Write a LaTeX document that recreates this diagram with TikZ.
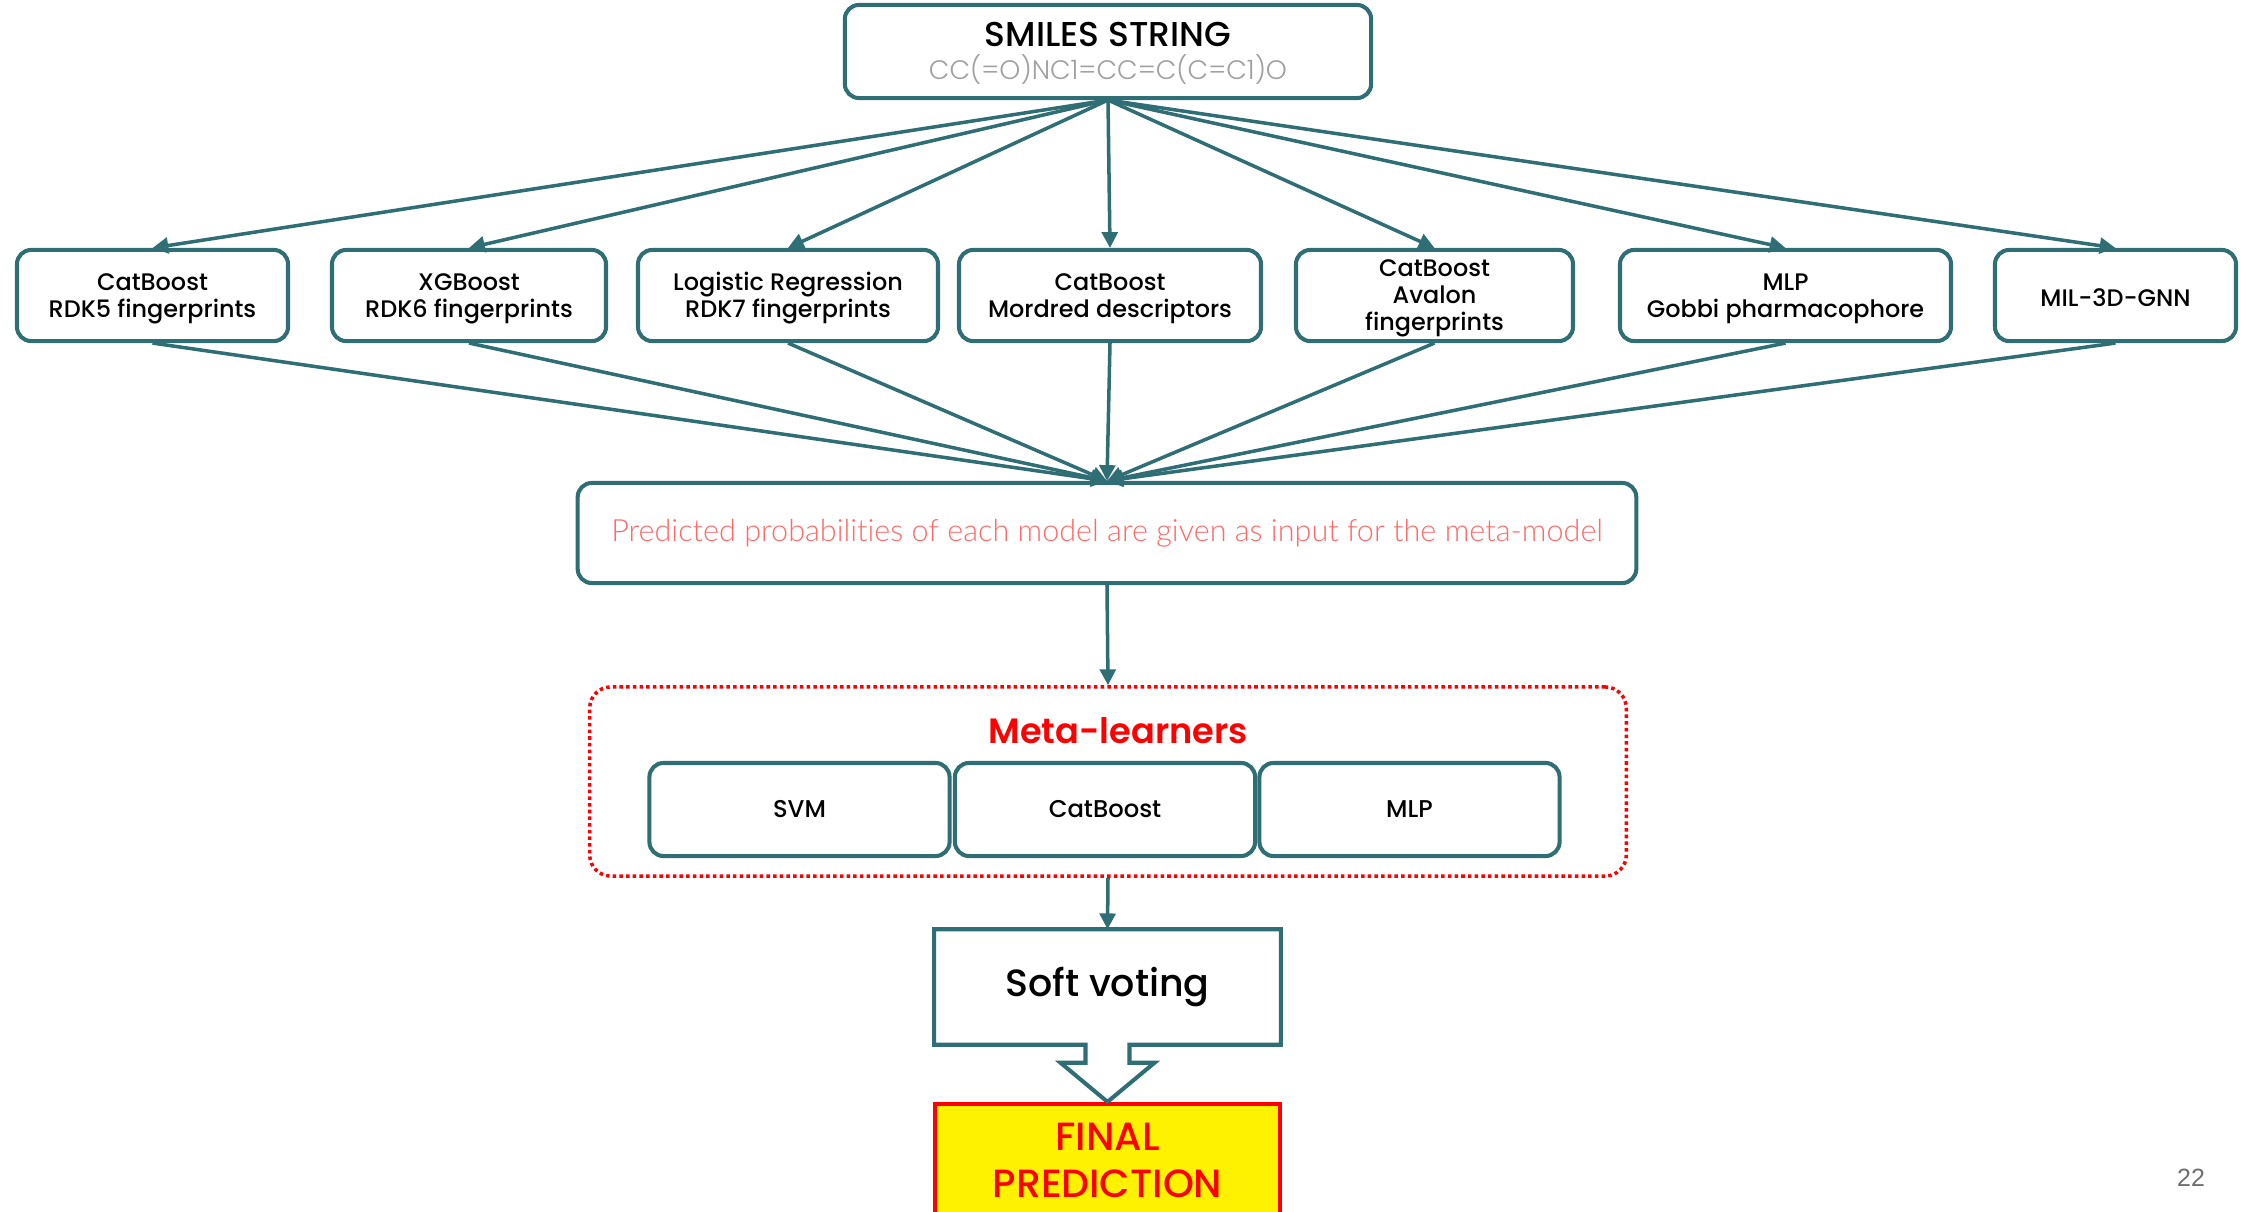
\documentclass[tikz,border=0pt]{standalone}
\usepackage{fontspec}
\setmainfont{Poppins}[UprightFont=* Medium,BoldFont=* SemiBold]
\newfontfamily\latofont{Lato}[UprightFont=* Light,Ligatures=NoCommon]
\newfontfamily\pagefont{Liberation Sans}
\newfontfamily\smilesfont{Poppins}[UprightFont=* Light]
\usepackage{xcolor}
\usepackage{tikz}
\usetikzlibrary{arrows.meta,positioning,calc}
\definecolor{tealline}{RGB}{47,110,117}
\definecolor{salmon}{RGB}{255,105,105}
\definecolor{smilesgray}{RGB}{160,160,160}

\begin{document}
\begin{tikzpicture}[
  x=0.01cm,y=-0.01cm,
  model/.style={draw=tealline,line width=1.15pt,rounded corners=4pt,align=center,inner sep=0pt,font=\fontsize{6.8}{7.7}\selectfont},
  flow/.style={tealline,line width=1pt,-{Triangle[length=4.5pt,width=4.5pt]}},
  metabox/.style={draw=red,line width=1pt,dash pattern=on 1pt off 0.9pt,rounded corners=6pt,inner sep=0pt},
  finalbox/.style={draw=red,fill=yellow,line width=1.2pt,align=center,inner sep=0pt,text=red,font=\fontsize{11.2}{13.4}\selectfont}
]
\fill[white] (0,0) rectangle (2244,1212);
\clip (0,0) rectangle (2244,1212);
% input
\node[model,minimum width=5.26cm,minimum height=0.93cm,font=\fontsize{9.8}{9.3}\selectfont] (smiles) at (1108,51.5)
  {\rule{0pt}{8pt}SMILES STRING\\{\color{smilesgray}\smilesfont\fontsize{7.6}{9.3}\selectfont CC(=O)NC1=CC=C(C=C1)O}};
% base models
\foreach \n/\x/\w/\t in {1/152.5/271/{CatBoost\\RDK5 fingerprints},2/469/274/{XGBoost\\RDK6 fingerprints},
    3/788/300/{Logistic Regression\\RDK7 fingerprints},4/1110/302/{CatBoost\\Mordred descriptors},
    5/1434.5/277/{CatBoost\\Avalon\\fingerprints},6/1785.5/331/{MLP\\Gobbi pharmacophore},7/2115.5/241/{MIL-3D-GNN}}
  \node[model,minimum width=\w*0.01cm,minimum height=0.91cm] (m\n) at (\x,295.5) {\rule{0pt}{6.5pt}\t};
\node[model,minimum width=10.58cm,minimum height=1cm,text=salmon,font=\latofont\fontsize{8.7}{9}\selectfont] (pred) at (1107,533)
  {Predicted probabilities of each model are given as input for the meta-model};
\foreach \n in {1,...,7}{
  \draw[flow] (smiles.south) -- (m\n.north);
  \draw[flow] (m\n.south) -- (pred.north);
}
% meta-learners
\node[metabox,minimum width=10.36cm,minimum height=1.89cm] (meta) at (1108,781.5) {};
\node[text=red,font=\bfseries\fontsize{10}{12}\selectfont] (metatitle) at (1118,731) {Meta-learners};
\foreach \n/\x/\t in {svm/799.5/SVM,cat/1105/CatBoost,mlp/1409.5/MLP}
  \node[model,minimum width=3cm,minimum height=0.93cm,font=\fontsize{6.9}{8}\selectfont] (\n) at (\x,809.5) {\t};
\draw[flow] (pred.south) -- (meta.north);
% voting
\node[inner sep=0pt,minimum width=3.45cm,minimum height=1.14cm,font=\fontsize{10.8}{12}\selectfont] (soft) at (1107.5,987) {Soft voting};
\draw[flow] (meta.south) -- (soft.north);
\node[finalbox,minimum width=3.45cm,minimum height=1.12cm] (final) at (1107.5,1160) {FINAL\\PREDICTION};
\draw[tealline,line width=1.15pt] (soft.north west) -- (soft.north east) -- (soft.south east)
  -- ($(soft.south)+(22,0)$) -- ++(0,18) -- ++(25,0) -- (final.north) -- ($(soft.south)+(-47,18)$)
  -- ++(25,0) -- ++(0,-18) -- (soft.south west) -- cycle;
\node[text={rgb,255:red,110;green,110;blue,110},font=\pagefont\fontsize{7.1}{8}\selectfont] (page) at (2191,1178) {22};
\end{tikzpicture}
\end{document}
